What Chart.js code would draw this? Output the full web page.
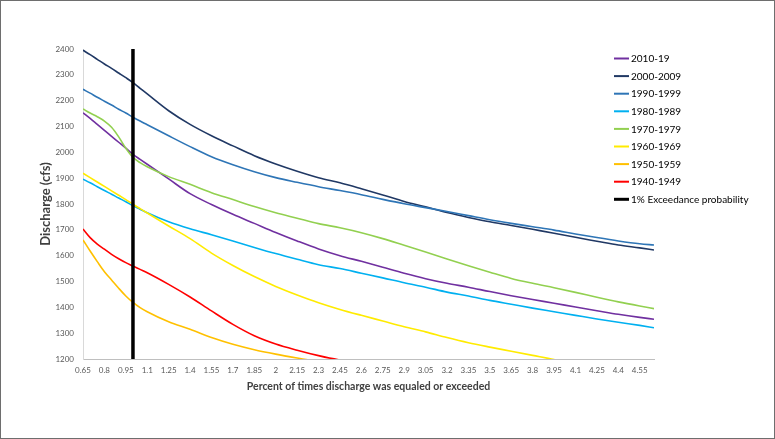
<!DOCTYPE html>
<html>
<head>
<meta charset="utf-8">
<script src="https://cdn.jsdelivr.net/npm/chart.js@4.4.1/dist/chart.umd.min.js"></script>
<style>
  html, body { margin: 0; padding: 0; background: #fff; }
  #wrap { position: relative; width: 775px; height: 439px; box-sizing: border-box; border: 1px solid #6e6e6e; }
  canvas { display: block; position: absolute; left: -1px; top: -1px; }
</style>
</head>
<body>
<div id="wrap"><canvas id="chart" width="775" height="439"></canvas></div>
<script>
// Percent of time the discharge was equaled or exceeded (x positions of the readings)
const percent = [0.65, 0.7, 0.75, 0.8, 0.85, 0.9, 0.95, 1.0, 1.05, 1.1,
  1.25, 1.4, 1.55, 1.7, 1.85, 2.0, 2.15, 2.3, 2.45, 2.6, 2.75, 2.9, 3.05,
  3.2, 3.35, 3.5, 3.65, 3.8, 3.95, 4.1, 4.25, 4.4, 4.55, 4.65];

// Labelled positions along the x axis
const tickValues = [0.65, 0.8, 0.95, 1.1, 1.25, 1.4, 1.55, 1.7, 1.85, 2, 2.15,
  2.3, 2.45, 2.6, 2.75, 2.9, 3.05, 3.2, 3.35, 3.5, 3.65, 3.8, 3.95, 4.1,
  4.25, 4.4, 4.55];

// Discharge (cfs) for each decade, one value per entry of `percent`
const d2010 = [2153, 2131, 2108, 2085, 2062, 2039, 2016, 1992, 1973, 1954,
  1897, 1840, 1798, 1760, 1725, 1690, 1657, 1626, 1600, 1578, 1555, 1532, 1511,
  1493, 1478, 1461, 1445, 1430, 1416, 1401, 1387, 1373, 1361, 1354];
const d2000 = [2395, 2378, 2360, 2342, 2325, 2307, 2289, 2270, 2248, 2226,
  2161, 2108, 2064, 2025, 1987, 1955, 1927, 1902, 1882, 1859, 1835, 1810, 1789,
  1767, 1748, 1731, 1717, 1702, 1687, 1671, 1656, 1641, 1630, 1622];
const d1990 = [2244, 2229, 2213, 2198, 2183, 2167, 2152, 2136, 2121, 2107,
  2064, 2022, 1983, 1952, 1925, 1902, 1884, 1867, 1852, 1836, 1818, 1801, 1786,
  1771, 1755, 1739, 1725, 1712, 1699, 1684, 1670, 1657, 1646, 1641];
const d1980 = [1896, 1882, 1867, 1852, 1838, 1823, 1809, 1793, 1780, 1766,
  1731, 1704, 1681, 1657, 1632, 1608, 1586, 1565, 1550, 1532, 1514, 1495, 1478,
  1459, 1444, 1427, 1412, 1397, 1383, 1369, 1355, 1342, 1330, 1321];
const d1970 = [2168, 2152, 2138, 2121, 2097, 2060, 2016, 1981, 1960, 1944,
  1906, 1876, 1844, 1817, 1790, 1766, 1745, 1724, 1708, 1689, 1666, 1640, 1614,
  1587, 1561, 1536, 1512, 1493, 1476, 1458, 1439, 1421, 1405, 1395];
const d1960 = [1919, 1902, 1885, 1868, 1851, 1834, 1817, 1799, 1782, 1765,
  1715, 1666, 1610, 1562, 1519, 1481, 1448, 1418, 1392, 1369, 1347, 1325, 1305,
  1283, 1263, 1246, 1230, 1214, 1198, 1184, null, null, null, null];
const d1950 = [1661, 1618, 1577, 1538, 1506, 1474, 1444, 1419, 1399, 1383,
  1344, 1315, 1283, 1257, 1236, 1219, 1204, 1190, 1178, null, null, null, null,
  null, null, null, null, null, null, null, null, null, null, null];
const d1940 = [1703, 1670, 1645, 1625, 1605, 1588, 1573, 1560, 1547, 1534,
  1489, 1440, 1386, 1334, 1290, 1258, 1234, 1213, 1196, 1185, null, null, null,
  null, null, null, null, null, null, null, null, null, null, null];

// 1% exceedance probability marker
const exceedancePercent = 1.0;
const exceedanceRange = [1200, 2400];

const seriesNames = ['2010-19', '2000-2009', '1990-1999', '1980-1989',
  '1970-1979', '1960-1969', '1950-1959', '1940-1949'];
const seriesValues = [d2010, d2000, d1990, d1980, d1970, d1960, d1950, d1940];
const seriesColors = ['#7030A0', '#203864', '#2E75B6', '#00B0F0',
  '#92D050', '#FFEB00', '#FFC000', '#FF0000'];

const toPoints = vals => percent.map((p, i) => ({ x: p, y: vals[i] }));

const datasets = seriesNames.map((name, i) => ({
  label: name,
  data: toPoints(seriesValues[i]),
  borderColor: seriesColors[i],
  backgroundColor: seriesColors[i],
  borderWidth: 1.6,
  cubicInterpolationMode: 'monotone',
  order: seriesNames.length + 1 - i
}));
datasets.push({
  label: '1% Exceedance probability',
  data: exceedanceRange.map(v => ({ x: exceedancePercent, y: v })),
  borderColor: '#000000',
  backgroundColor: '#000000',
  borderWidth: 3.5,
  tension: 0,
  order: 0
});

// Key drawn in the upper right, overlapping the empty corner of the plot
const seriesKey = {
  id: 'seriesKey',
  afterDraw(chart) {
    const ctx = chart.ctx;
    ctx.save();
    ctx.font = '10px Lato, "Liberation Sans", sans-serif';
    ctx.textBaseline = 'middle';
    ctx.textAlign = 'left';
    chart.data.datasets.forEach((ds, i) => {
      const y = 58.5 + i * 17.6;
      ctx.strokeStyle = ds.borderColor;
      ctx.lineWidth = ds.borderWidth > 3 ? 3 : 2;
      ctx.beginPath();
      ctx.moveTo(614, y);
      ctx.lineTo(629, y);
      ctx.stroke();
      ctx.fillStyle = '#000000';
      ctx.fillText(ds.label, 631, y + 0.5);
    });
    ctx.restore();
  }
};

const tickFont = { family: 'Lato, "Liberation Sans", sans-serif', size: 8 };

new Chart(document.getElementById('chart'), {
  type: 'line',
  data: { datasets },
  plugins: [seriesKey],
  options: {
    responsive: false,
    animation: false,
    devicePixelRatio: 1,
    layout: { padding: { left: 30, right: 121, top: 49, bottom: 40 } },
    elements: { point: { radius: 0 } },
    plugins: { legend: { display: false }, tooltip: { enabled: false } },
    scales: {
      x: {
        type: 'linear',
        min: 0.65,
        max: 4.65,
        afterBuildTicks: s => { s.ticks = tickValues.map(v => ({ value: v })); },
        afterFit: s => { s.height = 40; },
        grid: { display: false, drawTicks: false },
        border: { display: true, color: '#bfbfbf', width: 1 },
        ticks: {
          autoSkip: false, maxRotation: 0, padding: 7,
          color: '#595959', font: tickFont,
          callback: v => String(v)
        },
        title: {
          display: true,
          text: 'Percent of times discharge was equaled or exceeded',
          color: '#404040',
          font: { family: 'Lato, "Liberation Sans", sans-serif', size: 10.5, weight: 'bold' },
          padding: { top: 0, bottom: 6 }
        }
      },
      y: {
        min: 1200,
        max: 2400,
        afterFit: s => { s.width = 53; },
        grid: { display: false, drawTicks: false },
        border: { display: true, color: '#d9d9d9', width: 1 },
        ticks: {
          stepSize: 100, padding: 9, color: '#595959', font: tickFont,
          callback: v => String(v)
        },
        title: {
          display: true,
          text: 'Discharge (cfs)',
          color: '#404040',
          font: { family: 'Lato, "Liberation Sans", sans-serif', size: 13, weight: 'bold' },
          padding: { top: 8, bottom: 0 }
        }
      }
    }
  }
});
</script>
</body>
</html>
